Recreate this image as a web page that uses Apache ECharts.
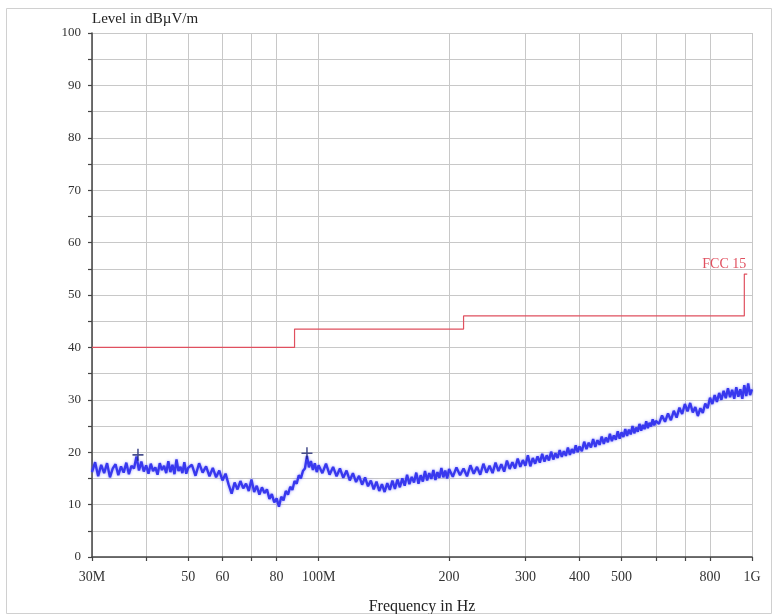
<!DOCTYPE html>
<html><head><meta charset="utf-8">
<script src="https://cdn.jsdelivr.net/npm/echarts@6/dist/echarts.min.js"></script>
<style>html,body{margin:0;padding:0;background:#fff}#c{width:773px;height:614px}</style>
</head><body><div id="c"></div>
<script>
// Measured trace (MHz, dBµV/m)
const freqMHz = [
 30,30.5,31,31.5,32,32.5,33,33.5,34,34.5,35,35.5,36,36.5,37,37.5,38,38.5,39,39.5,
 40,40.5,41,41.5,42,42.5,43,43.5,44,44.5,45,45.5,46,46.5,47,47.5,48,48.5,49,49.5,50,
 51,52,53,54,55,56,57,58,59,60,61,62,63,64,65,66,67,68,69,70,
 71,72,73,74,75,76,77,78,79,80,81,82,83,84,85,86,87,88,89,90,
 91,92,93,94,95,96,97,98,99,100,
 102,104,106,108,110,112,114,116,118,120,122,124,126,128,130,132,134,136,138,140,
 142,144,146,148,150,152,154,156,158,160,162,164,166,168,170,172,174,176,178,180,
 182,184,186,188,190,192,194,196,198,200,
 204,208,212,216,220,224,228,232,236,240,244,248,252,256,260,264,268,272,276,280,
 284,288,292,296,300,304,308,312,316,320,324,328,332,336,340,344,348,352,356,360,
 364,368,372,376,380,384,388,392,396,400,
 405,410,415,420,425,430,435,440,445,450,455,460,465,470,475,480,485,490,495,500,
 505,510,515,520,525,530,535,540,545,550,555,560,565,570,575,580,585,590,595,600,
 610,620,630,640,650,660,670,680,690,700,710,720,730,740,750,760,770,780,790,800,
 810,820,830,840,850,860,870,880,890,900,910,920,930,940,950,960,970,980,990,1000
];
const levelDb = [
 16.2,18.1,15.4,17.6,16.0,17.9,15.2,16.9,17.7,15.6,
 17.3,16.1,18.0,15.8,17.4,16.9,19.2,16.5,18.2,16.3,
 17.5,15.9,17.8,16.4,17.1,15.7,17.9,16.6,17.4,16.0,
 18.3,16.2,17.6,15.8,18.6,16.4,17.2,16.0,18.1,15.9,
 17.0,
 17.6,15.5,17.9,16.1,17.3,15.4,17.0,15.2,16.5,14.6,
 15.9,13.8,12.1,14.2,12.9,14.5,13.1,14.0,12.6,14.8,
 12.4,13.6,11.9,13.3,12.2,12.9,11.1,12.0,10.4,11.2,
 9.6,11.5,10.8,12.6,11.9,13.4,12.8,14.5,14.0,15.6,
 15.0,16.4,16.9,19.3,17.1,18.3,16.6,17.9,16.2,17.5,
 16.0,17.8,15.7,17.2,15.4,16.9,15.1,16.5,14.6,16.0,
 14.3,15.5,13.8,15.2,13.5,14.6,12.9,14.4,12.6,13.9,
 12.4,14.1,12.8,14.6,13.0,14.8,13.3,15.0,13.6,15.7,
 13.9,15.3,14.2,16.1,14.0,15.6,14.4,16.4,14.6,16.0,
 14.9,16.6,14.7,16.2,15.1,17.0,15.2,16.5,15.0,16.8,
 15.3,17.1,15.6,16.9,15.4,17.5,15.9,17.2,15.7,17.8,
 16.1,17.4,16.0,18.0,16.4,17.7,16.3,18.4,16.8,18.1,
 16.9,18.8,17.2,18.5,17.4,19.4,17.3,18.9,17.8,19.2,
 18.0,19.7,18.2,19.4,18.4,20.1,18.6,19.8,18.9,20.4,
 19.1,20.2,19.3,20.9,19.5,20.6,19.8,21.3,20.0,21.1,
 20.2,22.0,20.6,21.8,20.9,22.5,21.0,22.3,21.4,23.0,
 21.6,22.8,21.9,23.5,22.1,23.2,22.4,24.0,22.6,23.8,
 22.9,24.4,23.1,24.3,23.4,25.0,23.6,24.7,23.9,25.4,
 24.1,25.2,24.4,25.9,24.6,25.6,24.9,26.3,25.1,26.0,
 25.4,27.0,25.8,27.4,26.1,27.9,26.6,28.5,27.3,29.2,
 27.8,29.4,27.6,28.6,26.9,28.4,27.5,29.3,28.4,30.4,
 29.2,30.9,29.6,31.3,30.0,31.7,30.3,32.2,30.5,31.9,
 30.2,32.4,30.6,32.0,30.2,32.8,30.7,33.1,30.9,32.0
];
// FCC 15 limit line
const limitFreq = [30,88,88,216,216,960,960,975];
const limitDb = [40,40,43.5,43.5,46,46,54,54];
const limitName = 'FCC 15';
// Peak markers
const peakFreq = [38.3,94];
const peakDb = [19.5,19.8];
// Axis ticks
const xTickValues = [30,40,50,60,70,80,100,200,300,400,500,600,700,800,1000];
const xLabelValues = [30,50,60,80,100,200,300,400,500,800,1000];
const xLabelText = {30:'30M',100:'100M',1000:'1G'};

const serif = 'Liberation Serif';
const chart = echarts.init(document.getElementById('c'), null, {renderer:'canvas'});
chart.setOption({
  animation:false,
  backgroundColor:'#fff',
  graphic:[{type:'rect', left:4, top:6, shape:{width:765, height:605},
    style:{fill:'none', stroke:'#d0d0d0', lineWidth:1}, silent:true}],
  grid:{left:92, right:21, top:33, bottom:57, containLabel:false, outerBoundsMode:'none'},
  xAxis:{
    type:'log', logBase:10, min:30, max:1000,
    axisLine:{lineStyle:{color:'#444', width:1.5}},
    axisTick:{customValues:xTickValues, length:4, lineStyle:{color:'#444', width:1.2}},
    axisLabel:{customValues:xLabelValues, formatter:v=>xLabelText[v]||String(v),
      fontFamily:serif, fontSize:14, color:'#333', margin:13},
    splitLine:{show:true, lineStyle:{color:'#c8c8c8', width:1}},
    name:'Frequency in Hz', nameLocation:'middle', nameGap:42,
    nameTextStyle:{fontFamily:serif, fontSize:16, color:'#222'}
  },
  yAxis:{
    type:'value', min:0, max:100, interval:5,
    axisLine:{show:true, lineStyle:{color:'#444', width:1.5}},
    axisTick:{show:true, length:4, lineStyle:{color:'#444', width:1.2}},
    axisLabel:{formatter:v=>(v%10===0?String(v):''), fontFamily:serif, fontSize:13, color:'#333', margin:11},
    splitLine:{show:true, lineStyle:{color:'#c8c8c8', width:1}},
    name:'Level in dBµV/m', nameLocation:'end', nameGap:6,
    nameTextStyle:{fontFamily:serif, fontSize:15, color:'#222', align:'left'}
  },
  series:[
    {type:'line', name:'trace', data:freqMHz.map((f,i)=>[f,levelDb[i]]),
      showSymbol:false, z:3,
      lineStyle:{color:'#3838ee', width:2.4, shadowColor:'rgba(80,80,255,0.6)', shadowBlur:3}},
    {type:'line', name:limitName, data:limitFreq.map((f,i)=>[f,limitDb[i]]),
      showSymbol:false, lineStyle:{color:'#e0505f', width:1.2}, z:2,
      endLabel:{show:true, formatter:limitName, align:'right', verticalAlign:'bottom',
        offset:[-9,-3], fontFamily:serif, fontSize:14, color:'#e0505f'}},
    {type:'scatter', name:'peaks', data:peakFreq.map((f,i)=>[f,peakDb[i]]),
      symbol:'path://M4.3,0H5.7V4.3H10V5.7H5.7V10H4.3V5.7H0V4.3H4.3Z',
      symbolSize:[11,12], itemStyle:{color:'#1c2470'}, z:4}
  ]
});
</script></body></html>
